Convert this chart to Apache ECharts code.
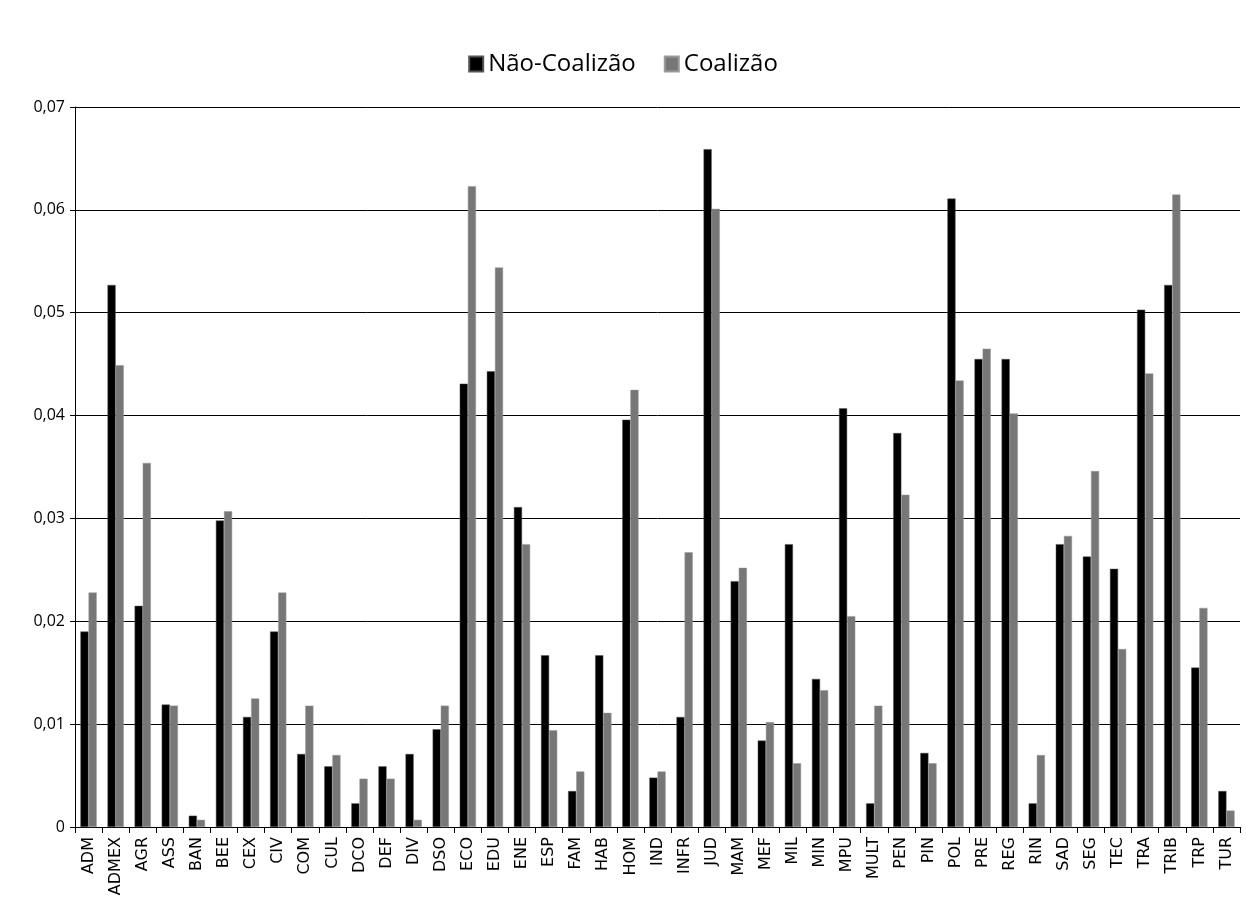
<!DOCTYPE html>
<html>
<head>
<meta charset="utf-8">
<script src="https://cdn.jsdelivr.net/npm/echarts@6/dist/echarts.min.js"></script>
<style>
  html, body { margin: 0; padding: 0; background: #fff; }
  #main { width: 1246px; height: 919px; }
</style>
</head>
<body>
<div id="main"></div>
<script>
var categories = ['ADM', 'ADMEX', 'AGR', 'ASS', 'BAN', 'BEE', 'CEX', 'CIV', 'COM', 'CUL', 'DCO', 'DEF', 'DIV', 'DSO',
  'ECO', 'EDU', 'ENE', 'ESP', 'FAM', 'HAB', 'HOM', 'IND', 'INFR', 'JUD', 'MAM', 'MEF', 'MIL', 'MIN', 'MPU', 'MULT',
  'PEN', 'PIN', 'POL', 'PRE', 'REG', 'RIN', 'SAD', 'SEG', 'TEC', 'TRA', 'TRIB', 'TRP', 'TUR'];

var naoCoalizao = [0.0190, 0.0527, 0.0215, 0.0119, 0.0011, 0.0298, 0.0107, 0.0190, 0.0071, 0.0059, 0.0023, 0.0059, 0.0071, 0.0095,
  0.0431, 0.0443, 0.0311, 0.0167, 0.0035, 0.0167, 0.0396, 0.0048, 0.0107, 0.0659, 0.0239, 0.0084, 0.0275, 0.0144, 0.0407, 0.0023,
  0.0383, 0.0072, 0.0611, 0.0455, 0.0455, 0.0023, 0.0275, 0.0263, 0.0251, 0.0503, 0.0527, 0.0155, 0.0035];

var coalizao = [0.0228, 0.0449, 0.0354, 0.0118, 0.0007, 0.0307, 0.0125, 0.0228, 0.0118, 0.0070, 0.0047, 0.0047, 0.0007, 0.0118,
  0.0623, 0.0544, 0.0275, 0.0094, 0.0054, 0.0111, 0.0425, 0.0054, 0.0267, 0.0601, 0.0252, 0.0102, 0.0062, 0.0133, 0.0205, 0.0118,
  0.0323, 0.0062, 0.0434, 0.0465, 0.0402, 0.0070, 0.0283, 0.0346, 0.0173, 0.0441, 0.0615, 0.0213, 0.0016];

var chart = echarts.init(document.getElementById('main'));

var option = {
  animation: false,
  backgroundColor: '#fff',
  legend: {
    top: 47,
    left: 'center',
    itemWidth: 14,
    itemHeight: 15,
    itemGap: 28,
    icon: 'rect',
    textStyle: { fontFamily: 'Open Sans', fontSize: 24, color: '#000', padding: [0, 0, 0, 0] },
    data: ['Não-Coalizão', 'Coalizão']
  },
  grid: {
    left: 75,
    right: 6,
    top: 107,
    bottom: 92,
    containLabel: false
  },
  xAxis: {
    type: 'category',
    data: categories,
    axisLine: { lineStyle: { color: '#000', width: 1 } },
    axisTick: { show: true, length: 6, interval: 0, lineStyle: { color: '#000' } },
    axisLabel: {
      interval: 0,
      rotate: 90,
      margin: 10,
      fontFamily: 'DejaVu Sans',
      fontSize: 16,
      color: '#000'
    }
  },
  yAxis: {
    type: 'value',
    min: 0,
    max: 0.07,
    interval: 0.01,
    axisLine: { show: true, lineStyle: { color: '#000', width: 1 } },
    axisTick: { show: true, length: 5, lineStyle: { color: '#000' } },
    splitLine: { lineStyle: { color: '#000', width: 1 } },
    axisLabel: {
      margin: 10,
      fontFamily: 'Open Sans',
      fontSize: 16,
      color: '#000',
      formatter: function (v) {
        if (v === 0) return '0';
        return v.toFixed(2).replace('.', ',');
      }
    }
  },
  series: [
    {
      name: 'Não-Coalizão',
      type: 'bar',
      data: naoCoalizao,
      barWidth: '30%',
      barGap: '0%',
      itemStyle: { color: '#000', borderColor: '#555', borderWidth: 0.5 }
    },
    {
      name: 'Coalizão',
      type: 'bar',
      data: coalizao,
      barWidth: '30%',
      itemStyle: { color: '#777', borderColor: '#999', borderWidth: 0.5 }
    }
  ]
};

chart.setOption(option);
</script>
</body>
</html>
